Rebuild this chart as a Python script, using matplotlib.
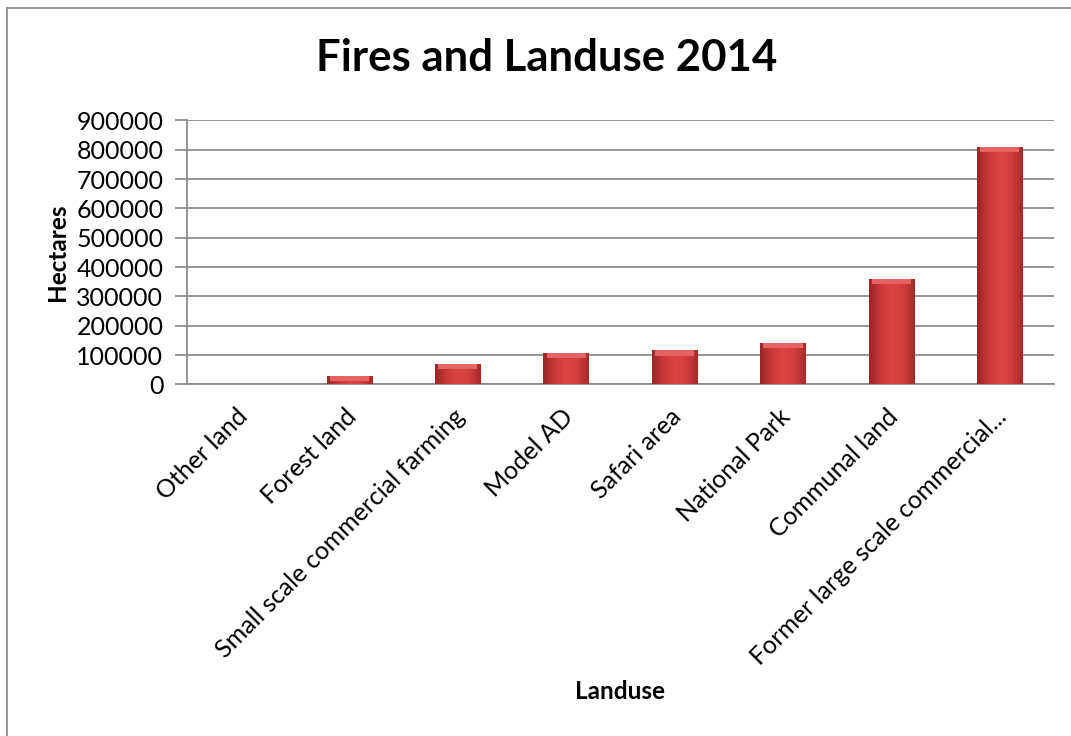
import matplotlib
matplotlib.use('Agg')
import matplotlib.pyplot as plt
import matplotlib.transforms as mtransforms
import numpy as np
from matplotlib.colors import LinearSegmentedColormap

categories = ["Other land", "Forest land", "Small scale commercial farming", "Model AD",
              "Safari area", "National Park", "Communal land", "Former large scale commercial..."]
hectares = [1000, 28500, 70000, 107000, 116000, 143000, 360000, 811000]
yticks = [0, 100000, 200000, 300000, 400000, 500000, 600000, 700000, 800000, 900000]

plt.rcParams['font.family'] = ['Lato', 'DejaVu Sans']

fig = plt.figure(figsize=(10.71, 7.36), dpi=100)
fig.set_facecolor('white')
ax = fig.add_axes([0.1746, 0.4776, 0.8094, 0.3587])

x = np.arange(len(categories))
bars = ax.bar(x, hectares, width=0.42, color='#C63737', edgecolor='none', zorder=3)

# shade each bar with a side-to-side gradient like the excel bevel
cmap = LinearSegmentedColormap.from_list('bev', ['#9A2626', '#C93838', '#DC4443', '#D23E3D', '#A52B2B'])
grad = np.linspace(0, 1, 64).reshape(1, -1)
for b in bars:
    x0, w, h = b.get_x(), b.get_width(), b.get_height()
    im = ax.imshow(grad, extent=[x0, x0 + w, 0, h], aspect='auto', cmap=cmap, zorder=4)
    im.set_clip_path(b)
    # lighter top face
    ax.bar(x0 + w / 2, min(h, 18000), width=w * 0.86, bottom=h - min(h, 18000),
           color='#E56462', edgecolor='none', zorder=5)

ax.set_xlim(-0.5, len(categories) - 0.5)
ax.set_ylim(0, 900000)
ax.set_yticks(yticks)
ax.set_yticklabels([str(v) for v in yticks], fontsize=18)
ax.yaxis.grid(True, color='#8C8C8C', linewidth=1.3, zorder=0)
ax.set_axisbelow(True)
ax.tick_params(axis='y', length=9, width=1.3, color='#8C8C8C', pad=8)
ax.tick_params(axis='x', length=0, pad=16)
ax.set_xticks(x)
ax.set_xticklabels(categories, rotation=45, ha='right', va='center', rotation_mode='anchor', fontsize=18)
shift = mtransforms.ScaledTranslation(3 / 100, -6 / 100, fig.dpi_scale_trans)
for lab in ax.get_xticklabels():
    lab.set_transform(lab.get_transform() + shift)
for s in ['top', 'right']:
    ax.spines[s].set_visible(False)
for s in ['left', 'bottom']:
    ax.spines[s].set_color('#8C8C8C')
    ax.spines[s].set_linewidth(1.3)

fig.text(0.51, 0.921, "Fires and Landuse 2014", fontsize=31.5, fontweight='bold', ha='center', va='center')
fig.text(0.054, 0.657, "Hectares", fontsize=17.5, fontweight='bold', rotation=90, ha='center', va='center')
fig.text(0.579, 0.060, "Landuse", fontsize=17.5, fontweight='bold', ha='center', va='center')

# chart frame (top and left edges visible)
fig.add_artist(plt.Line2D([0.0065, 1.0], [0.989, 0.989], color='#8C8C8C', linewidth=1.3))
fig.add_artist(plt.Line2D([0.0065, 0.0065], [0.0, 0.989], color='#8C8C8C', linewidth=1.3))

plt.savefig('out.png', dpi=100, facecolor=fig.get_facecolor())
